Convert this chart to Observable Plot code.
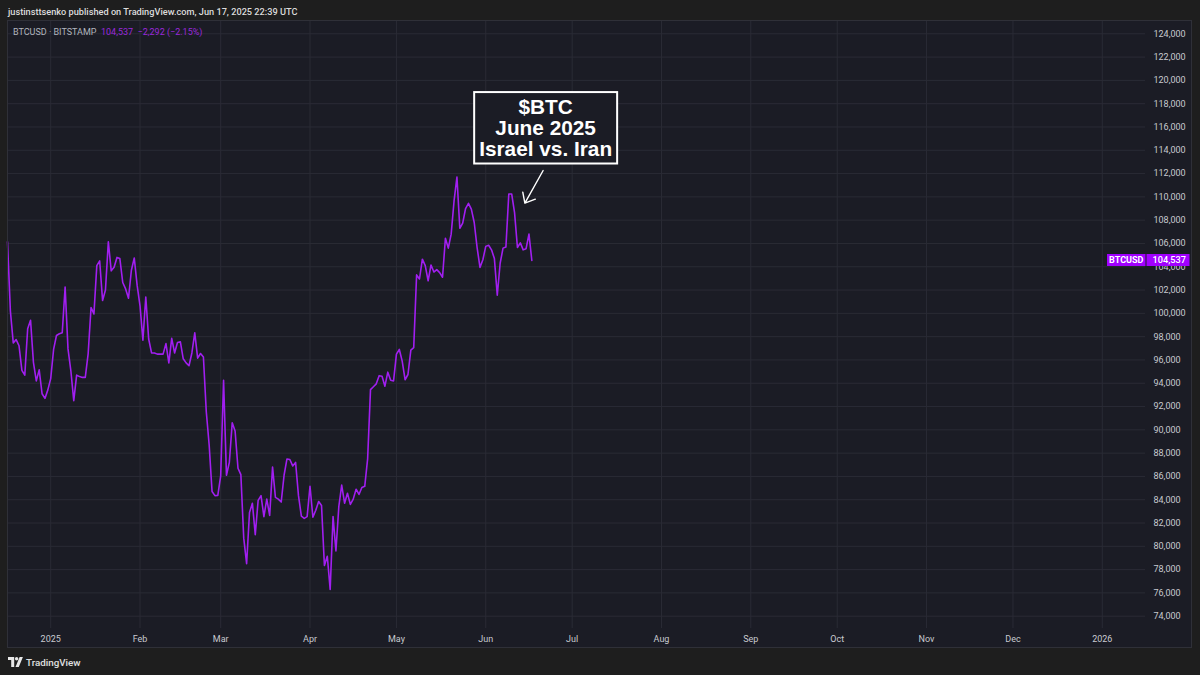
<!DOCTYPE html>
<html><head><meta charset="utf-8">
<script src="https://cdn.jsdelivr.net/npm/d3@7"></script>
<script src="https://cdn.jsdelivr.net/npm/@observablehq/plot@0.6"></script>
<style>
html,body{margin:0;padding:0;background:#1e1e1e;}
body{width:1200px;height:675px;overflow:hidden;position:relative;font-family:Roboto,"Liberation Sans",sans-serif;}
#hdr{position:absolute;left:8px;top:5px;font-size:9.2px;font-weight:500;color:#dcdcdc;white-space:nowrap;line-height:13px;}
#panel{position:absolute;left:7px;top:20px;width:1185px;height:628px;background:#1b1c25;}
#border{position:absolute;left:7px;top:20px;width:1185px;height:628px;box-sizing:border-box;border:1px solid #2f3038;pointer-events:none;}
#legend{position:absolute;left:6px;top:6px;font-size:9px;color:#b2b5be;white-space:nowrap;line-height:12px;}
#legend .v{color:#9a28dc;}
#chart{position:absolute;left:0;top:0;}
#footer{position:absolute;left:8px;top:655px;height:14px;display:flex;align-items:center;gap:3px;color:#e0e0e0;font-size:9.8px;font-weight:500;}
</style>
</head><body>
<div id="hdr"></div>
<div id="panel"><div id="chart"></div><div id="legend"></div></div>
<div id="border"></div>
<div id="footer"><svg width="15" height="10" viewBox="0 0 15 10"><path d="M0 0h6.2v10H3.2V3H0z" fill="#e8e8e8"/><circle cx="8.6" cy="1.7" r="1.7" fill="#e8e8e8"/><path d="M11.6 0h3.3l-4.1 10H7.5z" fill="#e8e8e8"/></svg><span id="tvtext"></span></div>
<script>
// ---------- data ----------
const headerText = "justinsttsenko published on TradingView.com, Jun 17, 2025 22:39 UTC";
const symbolText = "BTCUSD \u00b7 BITSTAMP";
const quoteText = ["104,537", "\u22122,292", "(\u22122.15%)"];
const footerText = "TradingView";
const seriesName = "BTCUSD";
const startDate = "2024-12-17";
// daily closes, Dec 17 2024 .. Jun 17 2025
const closes = [
  106140, 100200, 97460, 97750, 97220, 95100, 94690, 98680, 99400, 95800, 94200, 95150, 93100, 92700, 93430,
  94400, 96900, 98100, 98250, 98340, 102250, 96950, 95050, 92500, 94700,
  94570, 94500, 94500, 96550, 100500, 99950, 104100, 104500, 101100, 102000,
  106150, 103650, 103950, 104800, 104700, 102650, 102100, 101300, 103700, 104750, 102400,
  100650, 97700, 101400, 97800, 96600, 96600, 96500, 96500, 96500, 97400,
  95750, 97850, 96600, 97500, 97550, 96100, 95750, 95500, 96600, 98330,
  96150, 96550, 96250, 91550, 88700, 84700, 84350, 84370,
  86050, 94250, 86100, 87200, 90600, 89900, 86700, 86150, 80700, 78500,
  82900, 83700, 81000, 83950, 84350, 82550, 84050, 82650, 86800, 84200,
  84050, 83800, 86100, 87500, 87450, 86900, 87200, 84350, 82600, 82400, 82550,
  85150, 82500, 83100, 83850, 83500, 78350, 79150, 76300, 82550, 79600,
  83400, 85250, 83700, 84550, 83600, 84050, 84900, 84450, 85050, 85150,
  87500, 93450, 93700, 93950, 94650, 94600, 93750, 94950, 94250, 94200,
  96500, 96900, 95900, 94300, 94750, 96850, 97050, 103300, 102950, 104650,
  104100, 102800, 104150, 103550, 103750, 103500, 103100, 106450, 105600, 106800,
  109650, 111700, 107300, 107750, 109000, 109450, 108950, 107800, 105650, 103950, 104600,
  105750, 105850, 105450, 104700, 101550, 104300, 105600, 105700, 110250, 110250,
  108650, 105650, 106050, 105450, 105550, 106800, 104537
];
const lastLabel = "104,537";
const monthTickDates = ["2025-01-01","2025-02-01","2025-03-01","2025-04-01","2025-05-01","2025-06-01","2025-07-01","2025-08-01","2025-09-01","2025-10-01","2025-11-01","2025-12-01","2026-01-01"];
const monthLabels = ["2025","Feb","Mar","Apr","May","Jun","Jul","Aug","Sep","Oct","Nov","Dec","2026"];
const priceTicks = [74000,76000,78000,80000,82000,84000,86000,88000,90000,92000,94000,96000,98000,100000,102000,104000,106000,108000,110000,112000,114000,116000,118000,120000,122000,124000];
const xDomain = ["2024-12-17", "2026-01-16"];
const yDomain = [72944, 125142];
const annotation = [{date: "2025-06-21T19:00Z", value: 115870, label: "$BTC\nJune 2025\nIsrael vs. Iran"}];
const arrowData = [{x1: "2025-06-20T22:00Z", y1: 112264, x2: "2025-06-14T14:00Z", y2: 109457}];

// ---------- build ----------
document.getElementById("hdr").textContent = headerText;
document.getElementById("tvtext").textContent = footerText;
document.getElementById("legend").innerHTML = symbolText + '<span class="v">&nbsp;&nbsp;' + quoteText[0] + '&nbsp;&nbsp;' + quoteText[1] + '&nbsp;' + quoteText[2] + '</span>';

const start = new Date(startDate);
const series = closes.map((v, i) => ({date: d3.utcDay.offset(start, i), close: v}));
const monthTicks = monthTickDates.map(s => new Date(s));
const labelByTime = new Map(monthTicks.map((d, i) => [+d, monthLabels[i]]));
const annoRows = annotation.map(a => ({...a, date: new Date(a.date)}));
const arrowRows = arrowData.map(a => ({...a, x1: new Date(a.x1), x2: new Date(a.x2)}));

const W = 1185, H = 628, MR = 47, MB = 20;
const grid = "#2a2b35";
const lineColor = "#a11ff0";
const tagColor = "#a100ff";

const plot = Plot.plot({
  width: W, height: H,
  marginLeft: 0, marginRight: MR, marginTop: 0, marginBottom: MB,
  style: {background: "transparent", color: "#c8cad0", fontFamily: "Roboto, 'Liberation Sans', sans-serif", fontSize: "9px", overflow: "visible"},
  x: {type: "utc", domain: xDomain.map(s => new Date(s)), label: null},
  y: {domain: yDomain, label: null},
  marks: [
    Plot.gridX(monthTicks, {stroke: grid, strokeOpacity: 1}),
    Plot.gridY(priceTicks, {stroke: grid, strokeOpacity: 1}),
    Plot.axisX(monthTicks, {tickSize: 0, tickPadding: 7, tickFormat: d => labelByTime.get(+d), fill: "#c8cad0", label: null}),
    Plot.axisY(priceTicks, {anchor: "right", tickSize: 0, tickPadding: 8, tickFormat: d3.format(","), fill: "#c8cad0", label: null}),
    Plot.line(series, {x: "date", y: "close", stroke: lineColor, strokeWidth: 1.6}),
    Plot.arrow(arrowRows, {x1: "x1", y1: "y1", x2: "x2", y2: "y2", stroke: "#ffffff", strokeWidth: 1.4, headLength: 12, headAngle: 80}),
    Plot.text(annoRows, {x: "date", y: "value", text: "label", fill: "#ffffff", fontSize: 20.8, fontWeight: "bold", fontFamily: "'Liberation Sans', Arial, sans-serif", lineHeight: 1.02, lineAnchor: "middle", textAnchor: "middle"})
  ]
});
document.getElementById("chart").appendChild(plot);

const svg = d3.select(plot);
// annotation box around the text (same transform as the text)
svg.selectAll("text").filter(function() { return this.textContent.includes("$BTC"); }).each(function() {
  const b = this.getBBox();
  const tf = this.getAttribute("transform");
  const r = d3.select(this.parentNode).insert("rect", () => this)
    .attr("x", b.x - 5).attr("y", b.y - 3).attr("width", b.width + 10).attr("height", b.height + 6)
    .attr("fill", "#1b1c25").attr("stroke", "#ffffff").attr("stroke-width", 2);
  if (tf) r.attr("transform", tf);
});
// last-price tag on the right scale
const yLast = plot.scale("y").apply(closes[closes.length - 1]);
const xr = W - MR;
const tag = svg.append("g");
tag.append("rect").attr("x", xr - 38).attr("y", yLast - 6).attr("width", 38.5).attr("height", 12).attr("fill", tagColor);
tag.append("rect").attr("x", xr + 1.5).attr("y", yLast - 6).attr("width", 43).attr("height", 12).attr("fill", tagColor);
tag.append("text").attr("x", xr - 18.8).attr("y", yLast).attr("dy", "0.34em").attr("text-anchor", "middle")
  .attr("fill", "#ffffff").attr("font-size", 9).attr("font-weight", "bold").text(seriesName);
tag.append("text").attr("x", xr + 7.5).attr("y", yLast).attr("dy", "0.34em").attr("text-anchor", "start")
  .attr("fill", "#ffffff").attr("font-size", 9.2).attr("font-weight", 500).text(lastLabel);
</script>
</body></html>
